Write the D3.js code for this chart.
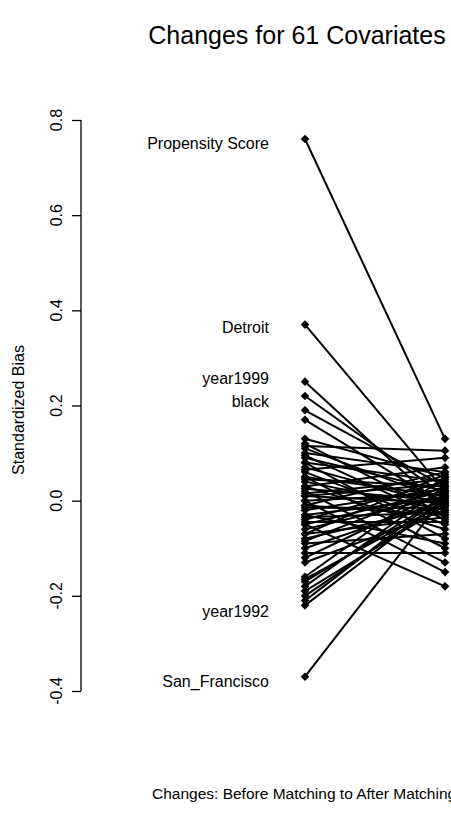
<!DOCTYPE html>
<html>
<head>
<meta charset="utf-8">
<script src="https://cdn.jsdelivr.net/npm/d3@7/dist/d3.min.js"></script>
<style>
  html, body { margin: 0; padding: 0; background: #fff; }
  svg { display: block; font-family: "Liberation Sans", Arial, sans-serif; }
</style>
</head>
<body>
<svg id="chart" width="451" height="834"></svg>
<script>
// Standardized bias for each covariate, before and after matching (same order)
const before = [0.76,0.37,0.25,0.22,0.19,0.17,0.13,0.12,0.115,0.11,
                0.10,0.095,0.09,0.08,0.08,0.07,0.065,0.06,0.05,0.05,
                0.045,0.04,0.03,0.03,0.025,0.02,0.015,0.01,0.01,0.00,
                0.00,-0.01,-0.01,-0.015,-0.02,-0.03,-0.03,-0.035,-0.04,-0.045,
                -0.05,-0.05,-0.06,-0.07,-0.07,-0.08,-0.085,-0.09,-0.10,-0.11,
                -0.12,-0.13,-0.16,-0.165,-0.17,-0.18,-0.19,-0.20,-0.21,-0.22,
                -0.37];
const after  = [0.13,0.02,-0.02,0.01,0.03,-0.01,0.05,-0.03,0.105,0.00,
                0.06,-0.04,0.02,-0.08,0.04,-0.01,0.09,-0.05,0.01,-0.10,
                0.03,-0.02,0.07,-0.06,0.00,-0.13,0.045,-0.005,0.035,-0.15,
                0.015,-0.03,0.06,-0.015,0.025,-0.09,0.005,-0.025,0.04,-0.045,
                0.02,-0.18,0.01,-0.035,0.055,-0.01,0.03,-0.07,0.00,-0.11,
                0.02,-0.02,0.05,-0.005,0.01,0.03,-0.01,0.00,0.015,0.005,
                0.01];
// labelled covariates: name, index into before[]
const labelNames = ["Propensity Score","Detroit","year1999","black","year1992","San_Francisco"];
const labelIndex = [0,1,2,3,59,60];
const labelShift = [4,3,-3,5,6,5];
const yTicks = [-0.4,-0.2,0.0,0.2,0.4,0.6,0.8];
const stages = ["Before","After"];

const svg = d3.select("#chart");
svg.append("rect").attr("width",451).attr("height",834).attr("fill","#fff");

const y = d3.scaleLinear().domain([-0.4, 0.8]).range([691, 120]);
const x = d3.scalePoint().domain(stages).range([305, 445]);

// y axis
const axisG = svg.append("g").attr("transform","translate(81,0)");
axisG.call(d3.axisLeft(y).tickValues(yTicks).tickSize(9).tickFormat(d3.format(".1f")));
axisG.select(".domain").remove();
axisG.selectAll(".tick line").attr("stroke","#000").attr("stroke-width",1.3);
axisG.selectAll(".tick text").remove();
axisG.append("line").attr("x1",0).attr("x2",0)
  .attr("y1",y(-0.4)).attr("y2",y(0.8)).attr("stroke","#000").attr("stroke-width",1.3);
axisG.selectAll(".tlab").data(yTicks).enter().append("text")
  .attr("class","tlab")
  .attr("transform", d => `translate(-19,${y(d)}) rotate(-90)`)
  .attr("text-anchor","middle")
  .attr("font-size",16)
  .attr("fill","#000")
  .text(d => d3.format(".1f")(d).replace("−","-"));

// lines
const pairs = before.map((b,i) => ({b, a: after[i]}));
svg.append("g").selectAll("line").data(pairs).enter().append("line")
  .attr("x1", x("Before")).attr("x2", x("After"))
  .attr("y1", d => y(d.b)).attr("y2", d => y(d.a))
  .attr("stroke","#000").attr("stroke-width",2);

// diamond markers
const diamond = d3.symbol().type(d3.symbolDiamond2).size(48);
const pts = [];
pairs.forEach(d => { pts.push({x:x("Before"), v:d.b}); pts.push({x:x("After"), v:d.a}); });
svg.append("g").selectAll("path").data(pts).enter().append("path")
  .attr("d", diamond)
  .attr("transform", d => `translate(${d.x},${y(d.v)})`)
  .attr("fill","#000");

// labels
svg.append("g").selectAll("text").data(labelNames).enter().append("text")
  .attr("x", x("Before") - 36)
  .attr("y", (d,i) => y(before[labelIndex[i]]) + labelShift[i])
  .attr("dy","0.35em")
  .attr("text-anchor","end")
  .attr("font-size",16)
  .attr("fill","#000")
  .text(d => d);

// title
svg.append("text").attr("x",297).attr("y",44).attr("text-anchor","middle")
  .attr("font-size",25).attr("fill","#000").text("Changes for 61 Covariates");

// axis titles
svg.append("text").attr("transform","translate(24,410) rotate(-90)")
  .attr("text-anchor","middle").attr("font-size",16).attr("fill","#000")
  .text("Standardized Bias");
svg.append("text").attr("x",152).attr("y",799).attr("text-anchor","start")
  .attr("font-size",15.5).attr("fill","#000")
  .text("Changes: Before Matching to After Matching");
</script>
</body>
</html>
